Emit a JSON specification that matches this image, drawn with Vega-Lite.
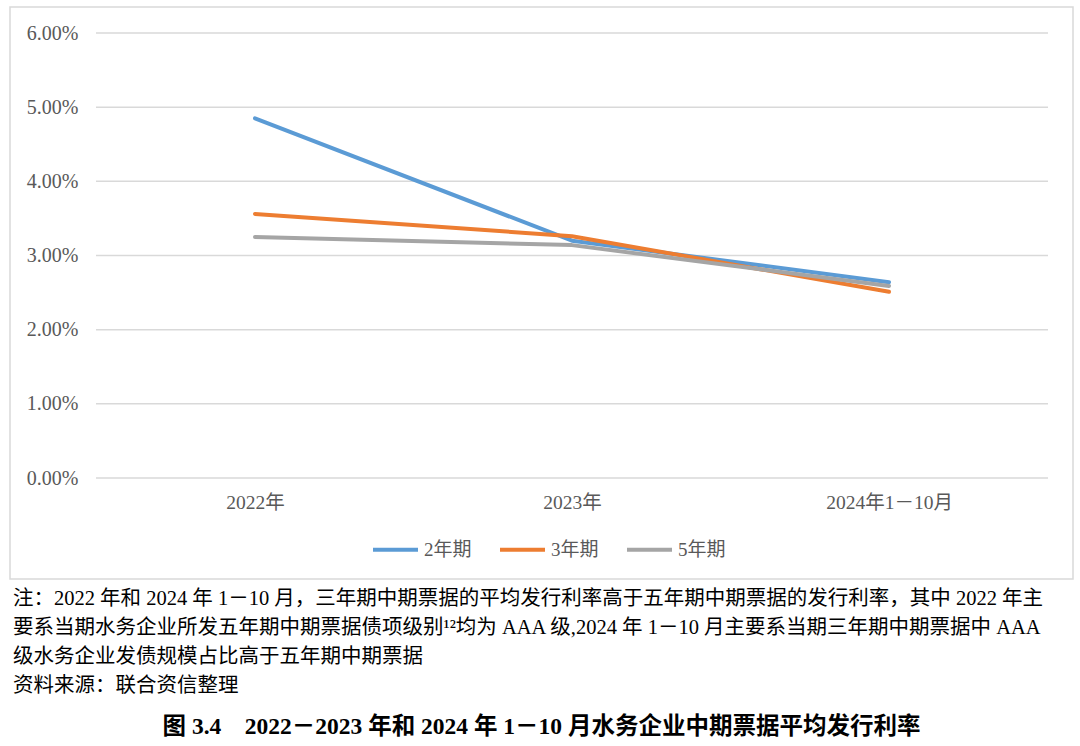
{
  "$schema": "https://vega.github.io/schema/vega-lite/v6.json",
  "background": "white",
  "padding": {"left": 9, "top": 6, "right": 8, "bottom": 0},
  "spacing": 4,
  "config": {
    "font": "Liberation Serif, Noto Sans CJK SC",
    "view": {"stroke": null},
    "axisY": {"labelFontSize": 20, "labelColor": "#595959", "labelFont": "Liberation Serif, Noto Sans CJK SC"}
  },
  "title": {
    "text": "图 3.4\u00a0\u00a0\u00a0 2022－2023 年和 2024 年 1－10 月水务企业中期票据平均发行利率",
    "orient": "bottom",
    "anchor": "middle",
    "fontSize": 23.5,
    "fontWeight": "bold",
    "color": "#000000",
    "offset": 15,
    "font": "Liberation Serif, Noto Sans CJK SC"
  },
  "datasets": {
    "rates": [
      {"period": "2022年", "series": "2年期", "rate": 0.0485},
      {"period": "2023年", "series": "2年期", "rate": 0.0320},
      {"period": "2024年1－10月", "series": "2年期", "rate": 0.0264},
      {"period": "2022年", "series": "3年期", "rate": 0.0356},
      {"period": "2023年", "series": "3年期", "rate": 0.0326},
      {"period": "2024年1－10月", "series": "3年期", "rate": 0.0251},
      {"period": "2022年", "series": "5年期", "rate": 0.0325},
      {"period": "2023年", "series": "5年期", "rate": 0.0314},
      {"period": "2024年1－10月", "series": "5年期", "rate": 0.0259}
    ],
    "grid": [
      {"v": 0}, {"v": 0.01}, {"v": 0.02}, {"v": 0.03}, {"v": 0.04}, {"v": 0.05}, {"v": 0.06}
    ],
    "notes": [
      {"i": 1, "t": "注：2022 年和 2024 年 1－10 月，三年期中期票据的平均发行利率高于五年期中期票据的发行利率，其中 2022 年主"},
      {"i": 2, "t": "要系当期水务企业所发五年期中期票据债项级别¹²均为 AAA 级,2024 年 1－10 月主要系当期三年期中期票据中 AAA"},
      {"i": 3, "t": "级水务企业发债规模占比高于五年期中期票据"},
      {"i": 4, "t": "资料来源：联合资信整理"}
    ]
  },
  "vconcat": [
    {
      "width": 1063,
      "height": 572,
      "view": {"stroke": "#d9d9d9", "strokeWidth": 1.5},
      "layer": [
        {
          "data": {"name": "grid"},
          "mark": {"type": "rule", "color": "#d9d9d9", "strokeWidth": 1.5},
          "encoding": {
            "y": {
              "field": "v",
              "type": "quantitative",
              "scale": {"domain": [0, 0.06], "range": [471, 26], "nice": false, "zero": false},
              "axis": {
                "values": [0, 0.01, 0.02, 0.03, 0.04, 0.05, 0.06],
                "format": ".2%",
                "offset": -76,
                "labelPadding": 8,
                "ticks": false,
                "domain": false,
                "grid": false,
                "title": null,
                "labelFontSize": 20,
                "labelColor": "#595959",
                "labelFont": "Liberation Serif, Noto Sans CJK SC"
              }
            },
            "x": {
              "datum": 0,
              "type": "quantitative",
              "scale": {"domain": [0, 1], "range": [86, 1038]},
              "axis": null
            },
            "x2": {"datum": 1}
          }
        },
        {
          "data": {"name": "rates"},
          "mark": {"type": "line", "strokeWidth": 4, "strokeCap": "round", "strokeJoin": "round"},
          "encoding": {
            "x": {
              "field": "period",
              "type": "nominal",
              "sort": ["2022年", "2023年", "2024年1－10月"],
              "scale": {"type": "point", "domain": ["2022年", "2023年", "2024年1－10月"], "range": [245, 879], "padding": 0},
              "axis": {
                "orient": "bottom",
                "offset": -101,
                "labelPadding": 15,
                "ticks": false,
                "domain": false,
                "grid": false,
                "title": null,
                "labelAngle": 0,
                "labelFontSize": 19.5,
                "labelColor": "#595959",
                "labelFont": "Liberation Serif, Noto Sans CJK SC"
              }
            },
            "y": {"field": "rate", "type": "quantitative"},
            "color": {
              "field": "series",
              "type": "nominal",
              "scale": {"domain": ["2年期", "3年期", "5年期"], "range": ["#5B9BD5", "#ED7D31", "#A5A5A5"]},
              "legend": {
                "orient": "none",
                "direction": "horizontal",
                "legendX": 361,
                "legendY": 518,
                "title": null,
                "symbolType": "stroke",
                "symbolSize": 2025,
                "symbolStrokeWidth": 4,
                "labelFontSize": 19,
                "labelColor": "#595959",
                "labelOffset": 4,
                "columnPadding": 20,
                "labelFont": "Liberation Serif, Noto Sans CJK SC"
              }
            }
          }
        }
      ],
      "resolve": {"scale": {"x": "independent"}, "axis": {"x": "independent"}}
    },
    {
      "width": 1063,
      "height": 116,
      "data": {"name": "notes"},
      "mark": {"type": "text", "align": "left", "baseline": "middle", "fontSize": 20.5, "color": "#000000", "font": "Liberation Serif, Noto Sans CJK SC"},
      "encoding": {
        "x": {"value": 3},
        "y": {"field": "i", "type": "ordinal", "scale": {"type": "point", "padding": 0.5}, "axis": null},
        "text": {"field": "t"}
      }
    }
  ]
}
